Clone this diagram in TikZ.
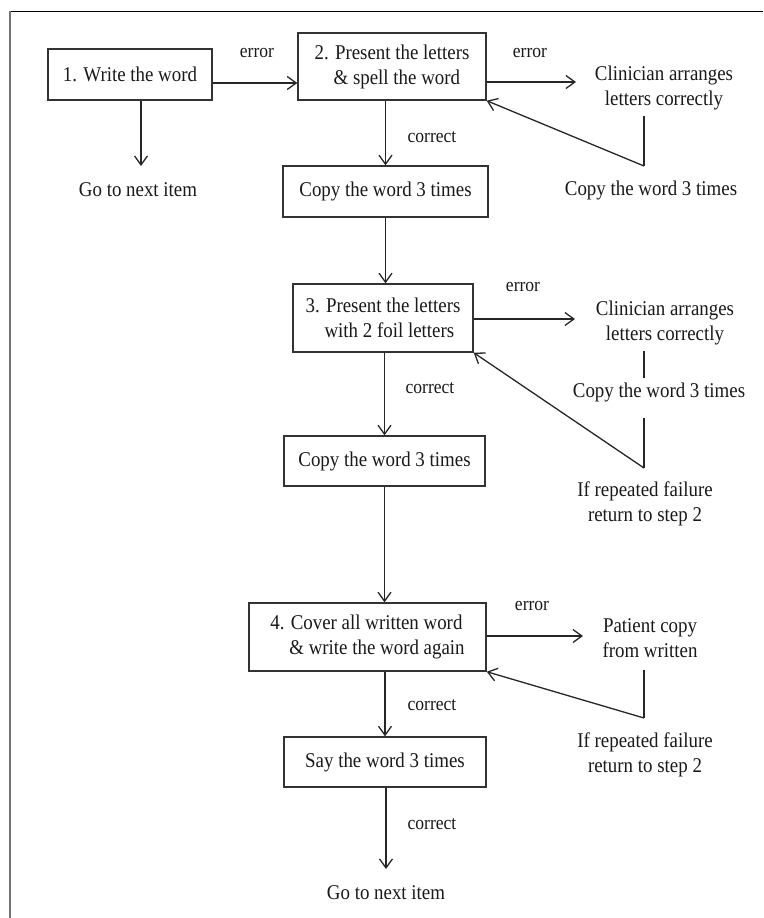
\documentclass[tikz,border=0pt]{standalone}
\usepackage{fontspec}
\setmainfont[FakeStretch=0.9]{Liberation Serif}
\usetikzlibrary{arrows.meta}
\newcommand\mainsz{\fontsize{21}{25}\selectfont}
\newcommand\labsz{\fontsize{19.5}{22}\selectfont}
\newcommand\indline{\hspace*{19pt}}
\begin{document}
\begin{tikzpicture}[x=1pt,y=-1pt,
  box/.style={draw=black!80, line width=1.4pt, inner sep=0pt, align=center, font=\mainsz, text=black!90},
  boxl/.style={box, align=left},
  txt/.style={inner sep=0pt, align=center, font=\mainsz, text=black!90},
  lab/.style={inner sep=0pt, font=\labsz, text=black!90},
  ln/.style={draw=black!85, line width=1.3pt},
  arr/.style={draw=black!85, line width=1.3pt, -{Straight Barb[length=9pt,width=13pt,line width=1.3pt]}}]
\useasboundingbox (0,0) rectangle (763,918);
% frame
\draw[black, line width=1pt] (10,11) -- (763,11);
\draw[black!55, line width=1.6pt] (10,11) -- (10,918);

% boxes
\node[box, minimum width=164pt, minimum height=51pt] (b1) at (130,74.5) {1. Write the word};
\node[boxl, minimum width=188pt, minimum height=67pt] (b2) at (392,66.5) {2. Present the letters\\ \indline\& spell the word};
\node[box, minimum width=205pt, minimum height=51pt] (c1) at (385.5,191.5) {Copy the word 3 times};
\node[boxl, minimum width=180pt, minimum height=68pt] (b3) at (383,318) {3. Present the letters\\ \indline with 2 foil letters};
\node[box, minimum width=201pt, minimum height=50pt] (c2) at (384.5,461) {Copy the word 3 times};
\node[boxl, minimum width=237pt, minimum height=68pt] (b4) at (367.5,637) {4. Cover all written word\\ \indline\& write the word again};
\node[box, minimum width=202pt, minimum height=50pt] (say) at (385,762) {Say the word 3 times};

% plain texts
\node[txt] (next1) at (138,190) {Go to next item};
\node[txt] (cl1) at (664,88) {Clinician arranges\\letters correctly};
\node[txt] (cp1) at (651,190) {Copy the word 3 times};
\node[txt] (cl2) at (665,323) {Clinician arranges\\letters correctly};
\node[txt] (cp2) at (659,392) {Copy the word 3 times};
\node[txt] (rf1) at (645,503.5) {If repeated failure\\return to step 2};
\node[txt] (pc) at (650,638) {Patient copy\\from written};
\node[txt] (rf2) at (645,754.5) {If repeated failure\\return to step 2};
\node[txt] (next2) at (386,893) {Go to next item};

% labels
\node[lab] (e1) at (257,53) {error};
\node[lab] (e2) at (530,53) {error};
\node[lab] (k1) at (432,137) {correct};
\node[lab] (e3) at (523,287) {error};
\node[lab] (k2) at (430,388) {correct};
\node[lab] (e4) at (532,606) {error};
\node[lab] (k3) at (432,705) {correct};
\node[lab] (k4) at (432,824) {correct};

% coordinates for free ends
\coordinate (n1top) at (141,166);
\coordinate (cl1end) at (576,82);
\coordinate (cl1a) at (644,116);
\coordinate (cl1b) at (644,166);
\coordinate (cl2end) at (575,319);
\coordinate (cl2a) at (644,351);
\coordinate (cl2b) at (644,378);
\coordinate (cl2c) at (644,418);
\coordinate (cl2d) at (644,468);
\coordinate (pcend) at (583,636);
\coordinate (pca) at (644,670);
\coordinate (pcb) at (644,718);
\coordinate (n2top) at (386,869);

% connectors
\draw[arr] (b1.east |- 0,83) -- (b2.west |- 0,83);
\draw[arr] (b1.south -| n1top) -- (n1top);
\draw[arr] (b2.east |- cl1end) -- (cl1end);
\draw[ln] (cl1a) -- (cl1b);
\draw[arr] (cl1b) -- (b2.south east);
\draw[arr] (c1.north |- b2.south) -- (c1.north);

\draw[arr] (c1.south) -- (c1.south |- b3.north);
\draw[arr] (b3.east |- cl2end) -- (cl2end);
\draw[ln] (cl2a) -- (cl2b);
\draw[ln] (cl2c) -- (cl2d);
\draw[arr] (cl2d) -- (b3.south east);
\draw[arr] (c2.north |- b3.south) -- (c2.north);

\draw[arr] (c2.south) -- (c2.south |- b4.north);
\draw[arr] (b4.east |- pcend) -- (pcend);
\draw[ln] (pca) -- (pcb);
\draw[arr] (pcb) -- (b4.south east);
\draw[arr] (say.north |- b4.south) -- (say.north);
\draw[arr] (say.south -| n2top) -- (n2top);
\end{tikzpicture}
\end{document}
